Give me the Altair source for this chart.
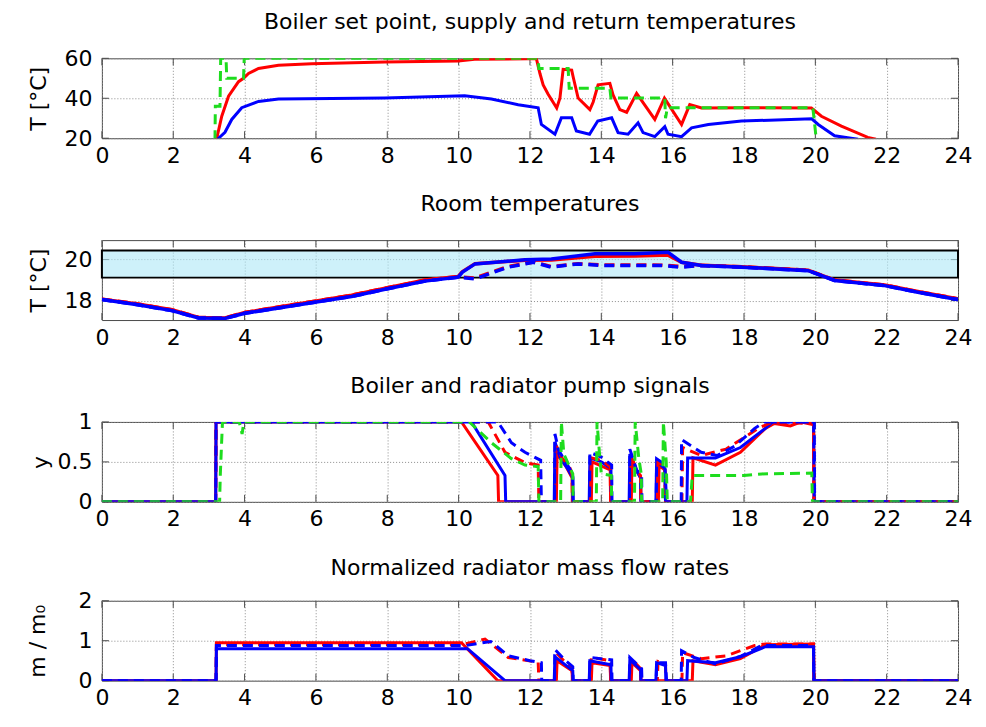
import altair as alt
import pandas as pd

FONT = "DejaVu Sans"
FS = 22
RED, BLUE, GREEN = "#ff0000", "#0000ff", "#1edc1e"
W, H = 857, 80
XTICKS = list(range(0, 25, 2))

# ---------------- Panel 1: boiler temperatures ----------------
p1_title = "Boiler set point, supply and return temperatures"
setp_t = [3.17, 3.18, 3.31, 3.33, 3.42, 3.48, 3.5, 3.97, 3.99, 12.23, 12.25, 13.07, 13.1, 14.24, 14.27, 15.78, 15.8, 15.85, 19.93, 20.03]
setp_v = [19, 36, 36, 60, 60, 60, 50, 50, 60, 60, 54.9, 54.9, 45, 45, 40.1, 40.1, 30, 35.2, 35.2, 19]
sup_t = [3.2, 3.22, 3.36, 3.55, 3.83, 3.97, 4.11, 4.39, 4.95, 5.88, 7.93, 9.99, 10.45, 11.95, 12.18, 12.28, 12.37, 12.51, 12.75, 12.84, 12.93, 13.17, 13.21, 13.35, 13.68, 13.77, 13.91, 14.24, 14.33, 14.52, 14.71, 14.99, 15.5, 15.77, 16.25, 16.48, 16.81, 18.0, 19.89, 20.17, 20.73, 21.47, 21.7]
sup_v = [19, 20, 31, 41, 48.3, 50, 52.4, 54.9, 56.5, 57.3, 58.2, 58.7, 59.5, 59.8, 59.8, 52.4, 46.7, 42, 35.1, 40, 54.5, 54.1, 50.8, 40.1, 34.3, 38, 46.7, 47.5, 41.7, 34.3, 33, 42.5, 29.4, 40.1, 26.9, 36.8, 35.1, 35.3, 35.1, 31.0, 26.1, 20.4, 19.5]
ret_t = [3.25, 3.27, 3.45, 3.64, 3.92, 4.39, 4.95, 7.93, 10.17, 10.92, 11.67, 12.23, 12.32, 12.7, 12.88, 13.17, 13.3, 13.67, 13.9, 14.29, 14.47, 14.75, 15.03, 15.17, 15.5, 15.78, 15.87, 16.25, 16.53, 17.0, 17.93, 19.9, 20.08, 20.54, 21.0, 21.2]
ret_v = [19, 20, 23, 29.4, 35.3, 38.4, 39.6, 40.1, 41.2, 39.6, 36.8, 35.2, 26.9, 22, 30.2, 30.2, 23.6, 22, 28.6, 30.2, 22.8, 22, 27.7, 22.8, 20.8, 25.8, 22, 20.8, 25.2, 26.9, 28.6, 29.7, 26.9, 21.2, 20, 19.5]

# ---------------- Panel 2: room temperatures ----------------
p2_title = "Room temperatures"
band_lo, band_hi = 19.12, 20.44
room_up_t = [0, 1, 1.96, 2.71, 3.45, 4.01, 5, 5.97, 7, 7.94, 9.06, 9.99, 10.1, 10.46, 11.86, 12.6, 13.82, 14.94, 15.87, 16.25, 16.8, 17.93, 19.8, 20.54, 21.94, 22.87, 23.9, 24]
room_up_blue = [18.05, 17.8, 17.51, 17.15, 17.13, 17.38, 17.65, 17.92, 18.2, 18.55, 18.95, 19.14, 19.38, 19.79, 19.99, 20.03, 20.28, 20.28, 20.36, 19.87, 19.71, 19.63, 19.46, 18.98, 18.73, 18.41, 18.08, 18.05]
room_up_red = [18.07, 17.84, 17.55, 17.18, 17.15, 17.42, 17.7, 17.97, 18.26, 18.6, 19.0, 19.18, 19.4, 19.8, 19.97, 19.98, 20.16, 20.18, 20.22, 19.87, 19.72, 19.65, 19.48, 19.0, 18.76, 18.44, 18.12, 18.08]
room_lo_t = [0, 1, 1.96, 2.71, 3.45, 4.01, 5, 5.97, 7, 7.94, 9.06, 9.99, 10.46, 11.39, 12.1, 12.6, 13.35, 14.0, 15.7, 16.25, 16.8, 17.93, 19.8, 20.54, 21.94, 22.87, 23.9, 24]
room_lo_blue = [18.05, 17.8, 17.51, 17.15, 17.13, 17.38, 17.65, 17.92, 18.2, 18.55, 18.95, 19.14, 19.06, 19.63, 19.87, 19.63, 19.79, 19.71, 19.71, 19.63, 19.71, 19.63, 19.46, 18.98, 18.73, 18.41, 18.08, 18.05]
room_lo_red = [18.07, 17.84, 17.55, 17.18, 17.15, 17.42, 17.7, 17.97, 18.26, 18.6, 19.0, 19.16, 19.1, 19.66, 19.88, 19.66, 19.8, 19.74, 19.73, 19.66, 19.72, 19.65, 19.48, 19.0, 18.76, 18.44, 18.12, 18.08]

# ---------------- Panel 3: pump signals ----------------
p3_title = "Boiler and radiator pump signals"
ps_red_t = [0, 3.19, 3.2, 10.08, 11.1, 11.12, 12.74, 12.76, 13.0, 13.18, 13.19, 13.72, 13.74, 14.25, 14.26, 14.84, 14.86, 15.1, 15.11, 15.6, 15.62, 15.78, 15.8, 16.55, 16.57, 17.2, 17.9, 18.6, 18.85, 19.3, 19.6, 19.9, 19.95, 19.96, 24]
ps_red_v = [0, 0, 1, 1, 0.33, 0, 0, 0.6, 0.45, 0.3, 0, 0, 0.5, 0.4, 0, 0, 0.5, 0.3, 0, 0, 0.45, 0.4, 0, 0, 0.55, 0.46, 0.62, 0.92, 0.98, 0.95, 1, 0.97, 1, 0, 0]
ps_blue_t = [0, 3.19, 3.2, 10.36, 11.3, 11.32, 12.68, 12.7, 12.85, 13.05, 13.2, 13.21, 13.66, 13.68, 14.0, 14.27, 14.28, 14.78, 14.8, 15.0, 15.1, 15.11, 15.53, 15.55, 15.78, 15.8, 16.4, 16.42, 17.2, 17.9, 18.6, 18.8, 19.95, 19.97, 24]
ps_blue_v = [0, 0, 1, 1, 0.33, 0, 0, 0.75, 0.55, 0.42, 0.3, 0, 0, 0.55, 0.5, 0.42, 0, 0, 0.6, 0.38, 0.3, 0, 0, 0.5, 0.42, 0, 0, 0.55, 0.55, 0.68, 0.92, 1, 1, 0, 0]
pd_red_t = [0, 3.19, 3.2, 10.83, 11.3, 11.86, 12.23, 12.25, 12.72, 12.74, 12.9, 13.1, 13.18, 13.19, 13.7, 13.72, 14.0, 14.25, 14.26, 14.82, 14.84, 15.0, 15.1, 15.11, 15.57, 15.59, 15.78, 15.8, 16.26, 16.28, 16.8, 17.5, 18.4, 18.8, 19.9, 19.95, 19.96, 24]
pd_red_v = [0, 0, 1, 1, 0.62, 0.49, 0.46, 0, 0, 0.7, 0.55, 0.45, 0.35, 0, 0, 0.55, 0.52, 0.44, 0, 0, 0.58, 0.38, 0.33, 0, 0, 0.5, 0.44, 0, 0, 0.68, 0.58, 0.66, 0.92, 1, 0.98, 1, 0, 0]
pd_blue_t = [0, 3.19, 3.2, 11.1, 11.48, 11.86, 12.3, 12.32, 12.69, 12.7, 12.8, 13.0, 13.2, 13.21, 13.67, 13.68, 14.0, 14.29, 14.3, 14.79, 14.8, 14.99, 15.13, 15.14, 15.54, 15.55, 15.78, 15.83, 16.24, 16.25, 16.8, 17.25, 17.75, 18.3, 18.58, 19.97, 19.98, 24]
pd_blue_v = [0, 0, 1, 1, 0.74, 0.62, 0.52, 0, 0, 0.85, 0.65, 0.5, 0.35, 0, 0, 0.62, 0.56, 0.46, 0, 0, 0.66, 0.4, 0.33, 0, 0, 0.54, 0.47, 0, 0, 0.78, 0.62, 0.58, 0.7, 0.92, 1, 1, 0, 0]
pb_t = [0, 3.3, 3.32, 3.38, 3.85, 3.93, 3.98, 10.3, 10.92, 11.48, 11.86, 12.23, 12.25, 12.86, 12.88, 12.95, 13.1, 13.2, 13.21, 13.86, 13.88, 13.95, 14.0, 14.28, 14.29, 14.93, 14.95, 15.05, 15.12, 15.13, 15.72, 15.74, 15.82, 15.85, 16.5, 16.55, 18.0, 18.5, 19.9, 19.92, 24]
pb_v = [0, 0, 0.35, 1, 1, 0.85, 1, 1, 0.74, 0.54, 0.46, 0.44, 0, 0, 1, 0.6, 0.45, 0.35, 0, 0, 1, 0.6, 0.35, 0.33, 0, 0, 1, 0.55, 0.35, 0, 0, 1, 0.5, 0, 0, 0.33, 0.33, 0.35, 0.36, 0, 0]

# ---------------- Panel 4: mass flow rates ----------------
p4_title = "Normalized radiator mass flow rates"
ms_red_t = [0, 3.2, 3.21, 10.08, 11.1, 12.74, 12.76, 13.18, 13.19, 13.72, 13.74, 14.25, 14.26, 14.84, 14.86, 15.1, 15.11, 16.55, 16.57, 17.2, 17.9, 18.6, 19.95, 19.96, 24]
ms_red_v = [0, 0, 0.95, 0.95, 0, 0, 0.5, 0.25, 0, 0, 0.45, 0.38, 0, 0, 0.45, 0.25, 0, 0, 0.5, 0.4, 0.55, 0.9, 0.92, 0, 0]
ms_blue_t = [0, 3.2, 3.21, 10.25, 11.3, 12.68, 12.7, 13.2, 13.21, 13.66, 13.68, 14.27, 14.28, 14.78, 14.8, 15.1, 15.11, 15.53, 15.55, 15.8, 15.81, 16.4, 16.42, 17.2, 17.9, 18.6, 19.95, 19.96, 24]
ms_blue_v = [0, 0, 0.8, 0.8, 0, 0, 0.6, 0.25, 0, 0, 0.5, 0.4, 0, 0, 0.52, 0.28, 0, 0, 0.45, 0.38, 0, 0, 0.5, 0.45, 0.6, 0.85, 0.85, 0, 0]
md_red_t = [0, 3.2, 3.21, 10.1, 10.74, 11.39, 12.23, 12.25, 12.72, 12.74, 13.0, 13.18, 13.19, 13.7, 13.72, 14.25, 14.26, 14.82, 14.84, 15.1, 15.11, 15.57, 15.59, 15.8, 15.81, 16.26, 16.28, 16.8, 17.5, 18.3, 18.6, 19.95, 19.96, 24]
md_red_v = [0, 0, 0.9, 0.9, 1.04, 0.58, 0.46, 0, 0, 0.7, 0.45, 0.3, 0, 0, 0.58, 0.5, 0, 0, 0.55, 0.3, 0, 0, 0.48, 0.42, 0, 0, 0.7, 0.55, 0.62, 0.88, 0.92, 0.92, 0, 0]
md_blue_t = [0, 3.2, 3.21, 10.2, 10.9, 11.4, 12.0, 12.32, 12.33, 12.69, 12.7, 13.0, 13.2, 13.21, 13.67, 13.68, 14.29, 14.3, 14.79, 14.8, 15.13, 15.14, 15.54, 15.55, 15.8, 15.83, 16.24, 16.25, 16.6, 17.2, 17.93, 18.49, 19.95, 19.96, 24]
md_blue_v = [0, 0, 0.88, 0.88, 0.98, 0.62, 0.5, 0.45, 0, 0, 0.78, 0.5, 0.35, 0, 0, 0.58, 0.52, 0, 0, 0.58, 0.3, 0, 0, 0.45, 0.45, 0, 0, 0.75, 0.58, 0.42, 0.62, 0.88, 0.88, 0, 0]

DASH = [10, 6]
FRAME = "#4a4a4a"


def make_panel(title, toff, ydomain, yticks, ytitle, tpad, series, extra=None, sw=3):
    X = alt.X("t:Q", scale=alt.Scale(domain=[0, 24], nice=False, zero=False),
              axis=alt.Axis(values=XTICKS, title=None, grid=True, labelFlush=False,
                            labelOverlap=False, ticks=False, tickSize=0, domain=False,
                            labelPadding=7))
    Y = alt.Y("v:Q", scale=alt.Scale(domain=ydomain, nice=False, zero=False),
              axis=alt.Axis(values=yticks, title=ytitle, grid=True, format=".1~f", labelFlush=False,
                            labelOverlap=False, ticks=False, tickSize=0, domain=False,
                            labelPadding=10, titlePadding=tpad))
    xt = pd.DataFrame({"t": XTICKS})
    yt = pd.DataFrame({"v": yticks})
    layers = [
        alt.Chart(xt).mark_rule(color=FRAME, strokeWidth=1).encode(x=X, y=alt.value(H), y2=alt.value(H - 7)),
        alt.Chart(xt).mark_rule(color=FRAME, strokeWidth=1).encode(x=X, y=alt.value(0), y2=alt.value(7)),
        alt.Chart(yt).mark_rule(color=FRAME, strokeWidth=1).encode(y=Y, x=alt.value(0), x2=alt.value(7)),
        alt.Chart(yt).mark_rule(color=FRAME, strokeWidth=1).encode(y=Y, x=alt.value(W), x2=alt.value(W - 7)),
    ]
    if extra is not None:
        layers.append(extra)
    for t, v, color, dashed in series:
        df = pd.DataFrame({"t": t, "v": v, "i": list(range(len(t)))})
        kw = dict(clip=True, color=color, strokeWidth=sw)
        if dashed:
            kw["strokeDash"] = DASH
        layers.append(alt.Chart(df).mark_line(**kw).encode(x=X, y=Y, order="i:Q"))
    return alt.layer(*layers).properties(width=W, height=H, title=alt.Title(title, offset=toff))


p1 = make_panel(p1_title, 13, [20, 60], [20, 40, 60], "T [°C]", 13, [
    (sup_t, sup_v, RED, False),
    (ret_t, ret_v, BLUE, False),
    (setp_t, setp_v, GREEN, True),
])

band_df = pd.DataFrame({"t": [0], "t2": [24], "v": [band_lo], "v2": [band_hi]})
band = alt.Chart(band_df).mark_rect(fill="#aee8f7", fillOpacity=0.6, stroke="black",
                                    strokeWidth=2, clip=False).encode(
    x=alt.X("t:Q"), x2="t2:Q", y=alt.Y("v:Q"), y2="v2:Q")

p2 = make_panel(p2_title, 24, [17.05, 20.95], [18, 20], "T [°C]", 13, [
    (room_lo_t, room_lo_red, RED, True),
    (room_up_t, room_up_red, RED, False),
    (room_lo_t, room_lo_blue, BLUE, True),
    (room_up_t, room_up_blue, BLUE, False),
], extra=band, sw=3.5)

p3 = make_panel(p3_title, 13, [0, 1], [0, 0.5, 1], "y", 4, [
    (ps_red_t, ps_red_v, RED, False),
    (ps_blue_t, ps_blue_v, BLUE, False),
    (pd_red_t, pd_red_v, RED, True),
    (pd_blue_t, pd_blue_v, BLUE, True),
    (pb_t, pb_v, GREEN, True),
])

p4 = make_panel(p4_title, 10, [0, 2], [0, 1, 2], "m / m₀", 28, [
    (ms_red_t, ms_red_v, RED, False),
    (md_red_t, md_red_v, RED, True),
    (ms_blue_t, ms_blue_v, BLUE, False),
    (md_blue_t, md_blue_v, BLUE, True),
])

chart = alt.vconcat(p1, p2, p3, p4, spacing=25).properties(
    padding={"left": 18, "top": 2, "right": 5, "bottom": 5}
).configure_view(
    stroke=FRAME, strokeWidth=1
).configure_axis(
    labelFont=FONT, labelFontSize=FS, labelColor="black",
    titleFont=FONT, titleFontSize=FS, titleFontWeight="normal", titleColor="black",
    gridColor="#8c8c8c", gridDash=[1, 2], gridOpacity=1, gridWidth=1,
).configure_title(
    font=FONT, fontSize=FS, fontWeight="normal", color="black", anchor="middle"
)

chart.save("out.html", embed_options={"renderer": "svg", "actions": False})
